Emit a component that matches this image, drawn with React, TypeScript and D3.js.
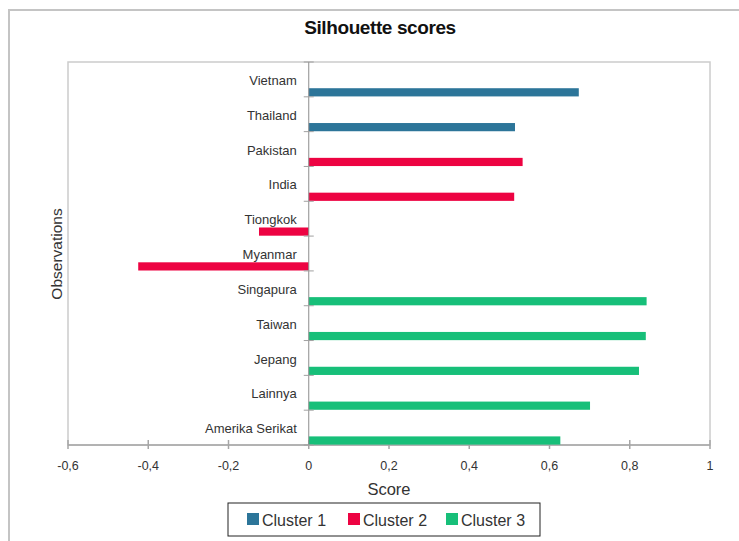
import React, { useEffect, useRef } from 'react';
import { select, scaleLinear, scaleBand } from 'd3';

const countries = ['Vietnam', 'Thailand', 'Pakistan', 'India', 'Tiongkok', 'Myanmar', 'Singapura', 'Taiwan', 'Jepang', 'Lainnya', 'Amerika Serikat'];
const scores = [0.673, 0.514, 0.533, 0.512, -0.124, -0.425, 0.842, 0.840, 0.823, 0.701, 0.627];
const clusterOf = [0, 0, 1, 1, 1, 1, 2, 2, 2, 2, 2];
const clusterNames = ['Cluster 1', 'Cluster 2', 'Cluster 3'];
const clusterColors = ['#2c7599', '#ed0342', '#17bf79'];
const xTicks = [-0.6, -0.4, -0.2, 0, 0.2, 0.4, 0.6, 0.8, 1];

const W = 739;
const H = 541;

export default function App() {
  const svgRef = useRef<SVGSVGElement>(null);

  useEffect(() => {
    if (!svgRef.current) return;
    const svg = select(svgRef.current);
    svg.selectAll('*').remove();

    const font = "'Liberation Sans', Arial, sans-serif";
    const plot = { left: 68, right: 710, top: 62, bottom: 445 };

    svg.append('rect').attr('width', W).attr('height', H).attr('fill', '#fff');
    // outer chart frame (runs off the right and bottom edges)
    svg.append('rect')
      .attr('x', 9).attr('y', 10).attr('width', W + 20).attr('height', H + 20)
      .attr('fill', 'none').attr('stroke', '#c4c4c4').attr('stroke-width', 2);

    svg.append('text')
      .attr('x', 380).attr('y', 34).attr('text-anchor', 'middle')
      .attr('font-family', font).attr('font-weight', 700).attr('font-size', '19px')
      .attr('letter-spacing', '-0.4px').attr('fill', '#111').text('Silhouette scores');

    // plot area border
    svg.append('rect')
      .attr('x', plot.left).attr('y', plot.top)
      .attr('width', plot.right - plot.left).attr('height', plot.bottom - plot.top)
      .attr('fill', 'none').attr('stroke', '#cccccc').attr('stroke-width', 1.5);

    const x = scaleLinear().domain([-0.6, 1]).range([plot.left, plot.right]);
    const y = scaleBand<string>().domain(countries).range([plot.top, plot.bottom]).padding(0);
    const bw = y.bandwidth();
    const x0 = x(0);

    // x axis
    svg.append('line')
      .attr('x1', plot.left).attr('x2', plot.right).attr('y1', plot.bottom).attr('y2', plot.bottom)
      .attr('stroke', '#a6a6a6').attr('stroke-width', 1.5);
    const xt = svg.append('g');
    xt.selectAll('line').data(xTicks).enter().append('line')
      .attr('x1', d => x(d)).attr('x2', d => x(d))
      .attr('y1', plot.bottom - 5).attr('y2', plot.bottom + 4)
      .attr('stroke', '#a6a6a6').attr('stroke-width', 1.5);
    xt.selectAll('text').data(xTicks).enter().append('text')
      .attr('x', d => x(d)).attr('y', 470).attr('text-anchor', 'middle')
      .attr('font-family', font).attr('font-size', '12.5px').attr('fill', '#333')
      .text(d => String(d).replace('.', ','));

    svg.append('text')
      .attr('x', x(0.2)).attr('y', 495).attr('text-anchor', 'middle')
      .attr('font-family', font).attr('font-size', '16.5px').attr('fill', '#333').text('Score');

    svg.append('text')
      .attr('transform', `translate(62,254) rotate(-90)`).attr('text-anchor', 'middle')
      .attr('font-family', font).attr('font-size', '15.5px').attr('fill', '#333').text('Observations');

    // bars
    svg.selectAll('.bar').data(countries).enter().append('rect')
      .attr('class', 'bar')
      .attr('x', (d, i) => Math.min(x0, x(scores[i])))
      .attr('width', (d, i) => Math.abs(x(scores[i]) - x0))
      .attr('y', d => (y(d) as number) + bw - 8.6)
      .attr('height', 8.2)
      .attr('fill', (d, i) => clusterColors[clusterOf[i]]);

    // zero axis with category ticks
    svg.append('line')
      .attr('x1', x0).attr('x2', x0).attr('y1', plot.top).attr('y2', plot.bottom)
      .attr('stroke', '#8c8c8c').attr('stroke-width', 1);
    const bounds = countries.map(c => y(c) as number).concat([plot.bottom]);
    svg.selectAll('.ytick').data(bounds).enter().append('line')
      .attr('class', 'ytick')
      .attr('x1', x0 - 5).attr('x2', x0 + 5).attr('y1', d => d).attr('y2', d => d)
      .attr('stroke', '#a0a0a0').attr('stroke-width', 1);

    svg.selectAll('.ylabel').data(countries).enter().append('text')
      .attr('class', 'ylabel')
      .attr('x', x0 - 12).attr('y', d => (y(d) as number) + 23)
      .attr('text-anchor', 'end')
      .attr('font-family', font).attr('font-size', '13px').attr('fill', '#333')
      .text(d => d);

    // legend
    const lg = svg.append('g');
    lg.append('rect')
      .attr('x', 228).attr('y', 503).attr('width', 312).attr('height', 33)
      .attr('fill', '#fff').attr('stroke', '#222').attr('stroke-width', 1);
    const itemX = [247, 348, 446];
    clusterNames.forEach((name, i) => {
      lg.append('rect')
        .attr('x', itemX[i]).attr('y', 513).attr('width', 12).attr('height', 12)
        .attr('fill', clusterColors[i]);
      lg.append('text')
        .attr('x', itemX[i] + 15).attr('y', 525.5)
        .attr('font-family', font).attr('font-size', '16px').attr('fill', '#333')
        .text(name);
    });
  }, []);

  return (
    <svg
      ref={svgRef}
      width={W}
      height={H}
      viewBox={`0 0 ${W} ${H}`}
      style={{ position: 'fixed', left: 0, top: 0, display: 'block' }}
    />
  );
}
